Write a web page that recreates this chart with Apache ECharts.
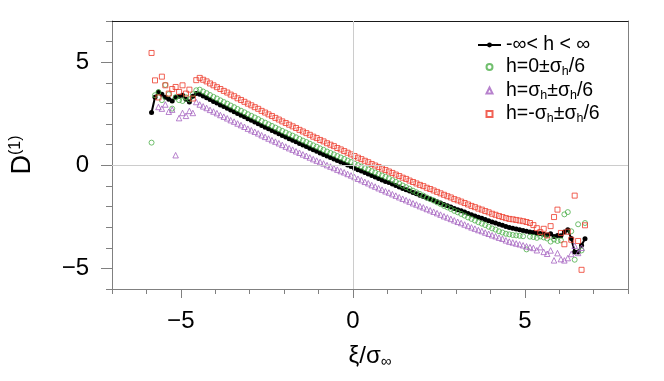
<!DOCTYPE html>
<html>
<head>
<meta charset="utf-8">
<script src="https://cdn.jsdelivr.net/npm/echarts@6/dist/echarts.min.js"></script>
<style>
  html, body { margin: 0; padding: 0; background: #fff; }
  #main { width: 664px; height: 381px; }
</style>
</head>
<body>
<div id="main"></div>
<script>
// bin width of the xi grid (units of sigma_inf)
const xStep = 0.1;

// -inf < h < inf  (black line with dots)
const blackX0 = -5.85;
const blackY = [
  2.56, 3.30, 3.56, 3.45, 3.30, 3.20, 3.12, 3.30, 3.35, 3.40, 3.20, 3.07, 3.35, 3.48,
  3.45, 3.36, 3.28, 3.19, 3.10, 3.02, 2.93, 2.85, 2.77, 2.68,
  2.60, 2.51, 2.43, 2.35, 2.26, 2.18, 2.10, 2.02, 1.93, 1.85,
  1.77, 1.69, 1.61, 1.53, 1.45, 1.37, 1.29, 1.22, 1.14, 1.06,
  0.98, 0.91, 0.83, 0.75, 0.68, 0.60, 0.53, 0.45, 0.38, 0.31,
  0.23, 0.16, 0.09, 0.01, -0.06, -0.14, -0.21, -0.28, -0.35, -0.42,
  -0.50, -0.57, -0.64, -0.71, -0.78, -0.84, -0.91, -0.98, -1.05, -1.12,
  -1.18, -1.25, -1.32, -1.38, -1.45, -1.51, -1.58, -1.64, -1.70, -1.77,
  -1.83, -1.90, -1.96, -2.02, -2.09, -2.15, -2.21, -2.27, -2.34, -2.40,
  -2.46, -2.52, -2.57, -2.63, -2.69, -2.75, -2.80, -2.86, -2.91, -2.97,
  -3.02, -3.05, -3.09, -3.12, -3.16, -3.20, -3.23, -3.26, -3.29, -3.31,
  -3.35,
  -3.38, -3.32, -3.45, -3.40, -3.42, -3.24, -3.12, -3.55, -4.21, -4.21, -3.88, -3.56
];

// h = 0 +- sigma_h/6  (green circles)
const greenX0 = -5.85;
const greenY = [
  1.10, 3.40, 3.55, 3.16, 3.90, 3.45, 2.75, 3.30, 3.16, 3.12, 3.30, 3.20, 3.45, 3.64,
  3.67, 3.58, 3.50, 3.41, 3.32, 3.24, 3.15, 3.07, 2.99, 2.90,
  2.82, 2.73, 2.65, 2.57, 2.48, 2.40, 2.32, 2.24, 2.15, 2.07,
  1.99, 1.91, 1.83, 1.75, 1.67, 1.59, 1.51, 1.44, 1.36, 1.28,
  1.20, 1.13, 1.05, 0.97, 0.90, 0.82, 0.75, 0.67, 0.60, 0.53,
  0.45, 0.38, 0.31, 0.23, 0.16, 0.08, 0.01, -0.06, -0.13, -0.20,
  -0.28, -0.35, -0.42, -0.49, -0.56,
  -0.63, -0.72, -0.80, -0.89, -0.98, -1.06, -1.14, -1.23, -1.31, -1.39,
  -1.47, -1.56, -1.64, -1.71, -1.80, -1.88, -1.97, -2.04, -2.12, -2.21,
  -2.28, -2.36, -2.44, -2.53, -2.60, -2.68, -2.76, -2.83, -2.90, -2.98,
  -3.06, -3.12, -3.20, -3.26,
  -3.32, -3.35, -3.38, -3.40, -3.42, -3.44, -4.08, -3.46, -3.48, -3.52, -3.45, -3.50,
  -3.55, -3.70, -3.60, -3.67, -3.64, -2.38, -2.27, -3.20, -4.58, -2.86, -4.13, -2.80
];

// h = sigma_h +- sigma_h/6  (purple triangles)
const purpleX0 = -5.65;
const purpleY = [
  2.83, 2.75, 2.95, 2.60, 2.70, 0.49, 2.29, 2.54, 2.40, 2.64, 2.54, 3.07,
  2.95, 2.86, 2.78, 2.69, 2.61, 2.53, 2.44, 2.36, 2.28, 2.19,
  2.12, 2.03, 1.95, 1.87, 1.78, 1.70, 1.63, 1.55, 1.46, 1.38,
  1.30, 1.22, 1.15, 1.07, 0.99, 0.91, 0.83, 0.76, 0.68, 0.61,
  0.53, 0.46, 0.38, 0.30, 0.23, 0.16, 0.09, 0.01, -0.06, -0.13,
  -0.21, -0.28, -0.34, -0.42, -0.49, -0.57, -0.65, -0.72, -0.80, -0.87,
  -0.96, -1.03, -1.11, -1.18, -1.26, -1.32, -1.40, -1.47, -1.55, -1.62,
  -1.69, -1.76, -1.84, -1.90, -1.98, -2.04, -2.12, -2.18, -2.25, -2.32,
  -2.39, -2.47, -2.53, -2.60, -2.67, -2.74, -2.80, -2.87, -2.94, -3.01,
  -3.07, -3.14, -3.19, -3.26, -3.32, -3.39, -3.44, -3.51, -3.56, -3.64,
  -3.70, -3.74, -3.79, -3.83, -3.88, -3.93, -3.97, -4.01, -4.12,
  -3.97, -4.20, -4.29, -4.13, -4.61, -4.26, -4.55, -4.61, -4.50, -4.30, -3.90, -4.25, -4.00
];

// h = -sigma_h +- sigma_h/6  (red squares)
const redX0 = -5.85;
const redY = [
  5.45, 4.12, 3.29, 4.30, 3.88, 3.48, 3.70, 3.80, 3.56, 3.88, 3.48, 3.67, 3.24, 4.13,
  4.24, 4.15, 4.07, 3.97, 3.88, 3.79, 3.70, 3.61, 3.53, 3.43,
  3.35, 3.25, 3.17, 3.08, 2.99, 2.91, 2.82, 2.74, 2.64, 2.56,
  2.47, 2.39, 2.30, 2.22, 2.13, 2.05, 1.97, 1.89, 1.81, 1.72,
  1.64, 1.56, 1.48, 1.39, 1.32, 1.23, 1.16, 1.07, 1.00, 0.93,
  0.84, 0.77, 0.69, 0.61, 0.53, 0.45, 0.37, 0.30, 0.22, 0.15,
  0.06, -0.01, -0.08, -0.16, -0.23, -0.30, -0.37, -0.45, -0.52, -0.60,
  -0.66, -0.74, -0.81, -0.88, -0.95, -1.01, -1.09, -1.15, -1.22, -1.29,
  -1.36, -1.43, -1.50, -1.56, -1.64, -1.70, -1.76, -1.83, -1.90, -1.97,
  -2.03, -2.10, -2.15, -2.22, -2.28, -2.35, -2.40, -2.46, -2.51, -2.56,
  -2.60, -2.62, -2.65, -2.68, -2.71, -2.75,
  -2.80, -2.90, -3.05, -3.24, -3.08,
  -3.40, -2.95, -2.51, -2.15, -3.28, -3.83, -3.22, -3.61, -1.47, -3.67, -5.07, -2.91
];

const seriesNames = ['-∞< h < ∞', 'h=0±σh/6', 'h=σh±σh/6', 'h=-σh±σh/6'];
// square-proportioned paths so the legend keeps small markers
const legendIcons = [
  null,
  'circle',
  'path://M5,0 L10,10 L0,10 Z',
  'path://M0,0 L10,0 L10,10 L0,10 Z'
];
const legendLabels = [
  '{m|-∞< h < ∞}',
  '{m|h=0±σ}{s|h}{m|/6}',
  '{m|h=σ}{s|h}{m|±σ}{s|h}{m|/6}',
  '{m|h=-σ}{s|h}{m|±σ}{s|h}{m|/6}'
];
const xTickLabels = [-5, 0, 5];
const yTickLabels = [-5, 0, 5];

const FONT = '"Liberation Sans", Arial, Helvetica, sans-serif';
const AXIS_GREY = '#808080';
const minus = v => (v < 0 ? '\u2212' + Math.abs(v) : String(v));
const pairs = (x0, ys) => ys.map((y, i) => [+(x0 + i * xStep).toFixed(2), y]);

let option = {
  animation: false,
  backgroundColor: '#fff',
  textStyle: { fontFamily: FONT },
  grid: { left: 106, right: 36, top: 21, bottom: 92 },
  legend: {
    orient: 'vertical',
    left: 477,
    top: 35,
    padding: 0,
    itemGap: 2,
    itemWidth: 23,
    itemHeight: 6,
    symbolKeepAspect: true,
    data: seriesNames.map((n, i) => (legendIcons[i] ? { name: n, icon: legendIcons[i] } : { name: n })),
    formatter: name => legendLabels[seriesNames.indexOf(name)],
    textStyle: {
      fontFamily: FONT,
      fontSize: 19.5,
      color: '#000',
      rich: {
        m: { fontFamily: FONT, fontSize: 19.5, color: '#000' },
        s: { fontFamily: FONT, fontSize: 12.5, color: '#000', padding: [10, 0, 0, 0] }
      }
    }
  },
  xAxis: [
    {
      type: 'value', min: -7, max: 8, interval: 1, position: 'bottom',
      axisLine: { onZero: false, lineStyle: { color: AXIS_GREY } },
      axisTick: { length: 5, lineStyle: { color: AXIS_GREY } },
      axisLabel: { show: false },
      splitLine: { show: false },
      name: '{m|ξ/σ}{s|∞}',
      nameLocation: 'middle',
      nameGap: 55,
      nameTextStyle: {
        rich: {
          m: { fontFamily: FONT, fontSize: 24, color: '#000' },
          s: { fontFamily: FONT, fontSize: 15, color: '#000', padding: [10, 0, 0, 0] }
        }
      }
    },
    {
      type: 'value', min: -7, max: 8, position: 'bottom',
      axisLine: { show: false, onZero: false },
      axisTick: { customValues: xTickLabels, length: 9, lineStyle: { color: AXIS_GREY } },
      axisLabel: { customValues: xTickLabels, formatter: minus, fontSize: 24, color: '#000', fontFamily: FONT, margin: 20 },
      splitLine: { show: false }
    },
    {
      type: 'value', min: -7, max: 8, position: 'top',
      axisLine: { onZero: false, lineStyle: { color: '#1a1a1a' } },
      axisTick: { show: false }, axisLabel: { show: false }, splitLine: { show: false }
    }
  ],
  yAxis: [
    {
      type: 'value', min: -6, max: 7, interval: 1, position: 'left',
      axisLine: { onZero: false, lineStyle: { color: AXIS_GREY } },
      axisTick: { length: 6, lineStyle: { color: AXIS_GREY } },
      axisLabel: { show: false },
      splitLine: { show: false },
      name: '{m|D}{p|(1)}',
      nameLocation: 'middle',
      nameGap: 74,
      nameTextStyle: {
        rich: {
          m: { fontFamily: FONT, fontSize: 27, color: '#000' },
          p: { fontFamily: FONT, fontSize: 16, color: '#000', padding: [0, 0, 14, 0] }
        }
      }
    },
    {
      type: 'value', min: -6, max: 7, position: 'left',
      axisLine: { show: false, onZero: false },
      axisTick: { customValues: yTickLabels, length: 11, lineStyle: { color: AXIS_GREY } },
      axisLabel: { customValues: yTickLabels, formatter: minus, fontSize: 24, color: '#000', fontFamily: FONT, margin: 23 },
      splitLine: { show: false }
    },
    {
      type: 'value', min: -6, max: 7, position: 'right',
      axisLine: { onZero: false, lineStyle: { color: AXIS_GREY } },
      axisTick: { show: false }, axisLabel: { show: false }, splitLine: { show: false }
    }
  ],
  series: [
    {
      type: 'scatter', name: '', data: [], z: 1, silent: true,
      markLine: {
        silent: true, symbol: 'none', animation: false,
        label: { show: false },
        lineStyle: { color: '#cccccc', type: 'solid', width: 1 },
        data: [{ xAxis: 0 }, { yAxis: 0 }]
      }
    },
    {
      name: seriesNames[0], type: 'line', z: 2,
      data: pairs(blackX0, blackY),
      symbol: 'circle', symbolSize: 5, showSymbol: true, showAllSymbol: true,
      lineStyle: { color: '#000', width: 2 },
      itemStyle: { color: '#000' }
    },
    {
      name: seriesNames[1], type: 'scatter', z: 3,
      data: pairs(greenX0, greenY),
      symbol: 'circle', symbolSize: 5,
      itemStyle: { color: 'transparent', borderColor: '#4daf4a', borderWidth: 1 }
    },
    {
      name: seriesNames[2], type: 'scatter', z: 3,
      data: pairs(purpleX0, purpleY),
      symbol: 'triangle', symbolSize: 5.5,
      itemStyle: { color: 'transparent', borderColor: '#a563c0', borderWidth: 1 }
    },
    {
      name: seriesNames[3], type: 'scatter', z: 3,
      data: pairs(redX0, redY),
      symbol: 'rect', symbolSize: 5,
      itemStyle: { color: 'transparent', borderColor: '#ee3b2b', borderWidth: 1 }
    }
  ]
};

let myChart = echarts.init(document.getElementById('main'));
myChart.setOption(option);
</script>
</body>
</html>
